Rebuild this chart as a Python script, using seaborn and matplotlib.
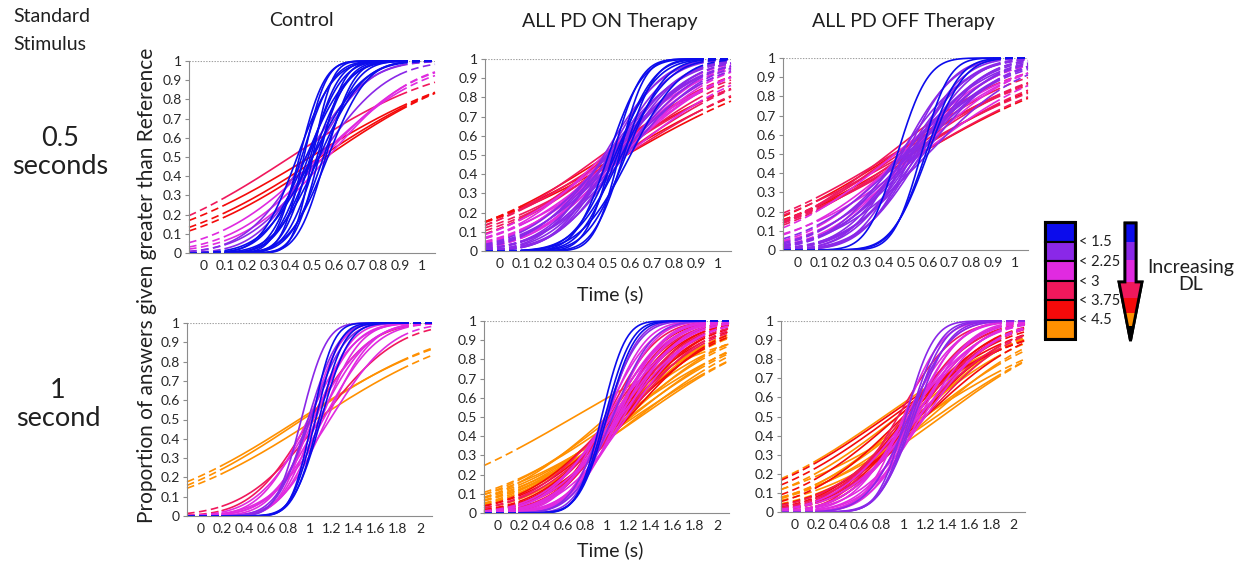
import math
import numpy as np
import pandas as pd
import matplotlib
matplotlib.use("Agg")
import matplotlib.pyplot as plt
from matplotlib.patches import Rectangle, Polygon
import seaborn as sns

# ---- fitted psychometric curves: point of subjective equality (s) and spread (s)
# DL groups: 0 <1.5, 1 <2.25, 2 <3, 3 <3.75, 4 <4.5, 5 >=4.5
pse_ctrl_05 = [0.50, 0.46, 0.53, 0.44, 0.49, 0.56, 0.45, 0.52, 0.48, 0.55, 0.43, 0.50, 0.57, 0.47, 0.53, 0.50,
               0.50, 0.47, 0.53, 0.53, 0.57, 0.55, 0.40, 0.49, 0.535, 0.56]
sd_ctrl_05 = [0.07, 0.08, 0.09, 0.09, 0.10, 0.10, 0.11, 0.11, 0.12, 0.12, 0.13, 0.13, 0.14, 0.15, 0.16, 0.18,
              0.20, 0.22, 0.25, 0.37, 0.31, 0.33, 0.54, 0.58, 0.54, 0.52]
grp_ctrl_05 = [0] * 16 + [1] * 3 + [2] * 3 + [3] * 1 + [4] * 3

pse_on_05 = [0.55, 0.52, 0.57, 0.50, 0.54, 0.58, 0.53, 0.56, 0.60,
             0.50, 0.52, 0.48, 0.55, 0.53, 0.57, 0.51, 0.54, 0.49, 0.56, 0.58, 0.52, 0.50, 0.55,
             0.52, 0.55, 0.50, 0.57, 0.53, 0.48, 0.56, 0.54, 0.51, 0.58,
             0.50, 0.54, 0.47, 0.56, 0.52, 0.58,
             0.50, 0.55, 0.58]
sd_on_05 = [0.09, 0.10, 0.11, 0.12, 0.13, 0.14, 0.15, 0.17, 0.18,
            0.19, 0.20, 0.21, 0.22, 0.23, 0.24, 0.25, 0.26, 0.27, 0.28, 0.29, 0.30, 0.31, 0.33,
            0.28, 0.30, 0.32, 0.33, 0.35, 0.36, 0.38, 0.40, 0.42, 0.44,
            0.42, 0.45, 0.48, 0.50, 0.53, 0.55,
            0.55, 0.60, 0.62]
grp_on_05 = [0] * 9 + [1] * 14 + [2] * 10 + [3] * 6 + [4] * 3

pse_off_05 = [0.46, 0.57, 0.59, 0.60,
              0.50, 0.53, 0.48, 0.55, 0.52, 0.57, 0.50, 0.54, 0.47, 0.56, 0.51, 0.58, 0.53, 0.49, 0.55, 0.52, 0.60, 0.50,
              0.52, 0.48, 0.55, 0.50, 0.45, 0.57,
              0.42, 0.45, 0.50, 0.47, 0.53, 0.44, 0.56, 0.50,
              0.45, 0.52, 0.56]
sd_off_05 = [0.11, 0.10, 0.12, 0.13,
             0.17, 0.18, 0.19, 0.20, 0.21, 0.22, 0.23, 0.24, 0.25, 0.26, 0.27, 0.28, 0.29, 0.30, 0.31, 0.33, 0.34, 0.36,
             0.30, 0.33, 0.36, 0.40, 0.43, 0.46,
             0.45, 0.48, 0.50, 0.52, 0.55, 0.58, 0.60, 0.62,
             0.55, 0.58, 0.62]
grp_off_05 = [0] * 4 + [1] * 18 + [2] * 6 + [3] * 8 + [4] * 3

pse_ctrl_1 = [1.02, 1.05, 1.08, 1.10,
              0.92, 0.98, 1.00,
              1.00, 1.05, 1.10, 1.03, 1.15, 0.98, 1.08, 1.12, 1.02, 1.18,
              1.00, 1.10,
              0.90, 0.93, 1.05]
sd_ctrl_1 = [0.15, 0.17, 0.18, 0.20,
             0.18, 0.22, 0.25,
             0.22, 0.25, 0.28, 0.30, 0.32, 0.34, 0.36, 0.38, 0.40, 0.44,
             0.42, 0.55,
             1.10, 1.05, 1.10]
grp_ctrl_1 = [0] * 4 + [1] * 3 + [2] * 10 + [3] * 2 + [5] * 3

pse_on_1 = [0.95, 0.98, 1.00,
            1.00, 0.98, 1.05,
            1.00, 1.05, 1.10, 0.98, 1.08, 1.12, 1.03, 1.15, 1.06, 1.00, 1.10, 1.18, 1.04, 1.12,
            1.00, 1.06, 1.10, 1.02, 1.14, 1.08, 1.18, 1.04, 1.12,
            1.02, 1.08, 1.12, 1.05, 1.15, 1.10, 1.20, 1.06, 1.14,
            0.70, 1.00, 1.10, 1.15, 1.05, 1.20, 1.12, 1.25, 1.08, 1.18, 1.30, 1.22, 1.15, 1.28]
sd_on_1 = [0.17, 0.19, 0.20,
           0.22, 0.25, 0.28,
           0.28, 0.30, 0.32, 0.33, 0.35, 0.36, 0.38, 0.40, 0.42, 0.44, 0.46, 0.48, 0.50, 0.52,
           0.36, 0.40, 0.44, 0.47, 0.50, 0.53, 0.56, 0.60, 0.64,
           0.40, 0.44, 0.48, 0.52, 0.55, 0.58, 0.62, 0.66, 0.70,
           1.20, 0.80, 0.75, 0.85, 0.90, 0.95, 1.00, 1.05, 0.70, 0.78, 1.00, 0.88, 0.65, 0.92]
grp_on_1 = [0] * 3 + [1] * 3 + [2] * 14 + [3] * 9 + [4] * 9 + [5] * 14

pse_off_1 = [1.02, 1.06, 1.08, 1.10, 1.05,
             1.00, 1.05, 1.10, 1.08, 1.15, 1.02, 1.12, 1.18, 1.06, 1.10, 1.20, 1.04, 1.14,
             0.95, 1.05, 1.10, 1.00, 1.15, 1.08, 1.20, 1.12,
             0.85, 0.90, 0.95, 1.00, 1.05, 1.10, 1.15, 1.02, 1.20,
             0.82, 0.95, 1.05, 1.10, 1.20, 1.15, 1.25, 1.30, 1.35, 1.18]
sd_off_1 = [0.20, 0.22, 0.23, 0.25, 0.30,
            0.28, 0.30, 0.32, 0.34, 0.36, 0.38, 0.40, 0.42, 0.45, 0.48, 0.50, 0.53, 0.56,
            0.40, 0.44, 0.48, 0.52, 0.56, 0.60, 0.64, 0.68,
            1.00, 0.95, 0.80, 0.70, 0.60, 0.55, 0.65, 0.50, 0.75,
            1.00, 0.90, 0.80, 0.85, 0.90, 0.70, 0.80, 1.00, 0.95, 1.10]
grp_off_1 = [1] * 5 + [2] * 13 + [3] * 8 + [4] * 9 + [5] * 10

group_colors = ["#0c0cec", "#8a28e8", "#e02ae0", "#f0185c", "#f40a0a", "#ff9000"]
legend_labels = ["< 1.5", "< 2.25", "< 3", "< 3.75", "< 4.5"]
titles = ["Control", "ALL PD ON Therapy", "ALL PD OFF Therapy"]
row_labels = ["0.5\nseconds", "1\nsecond"]
yticks = [0, 0.1, 0.2, 0.3, 0.4, 0.5, 0.6, 0.7, 0.8, 0.9, 1]
xticks_05 = [0, 0.1, 0.2, 0.3, 0.4, 0.5, 0.6, 0.7, 0.8, 0.9, 1]
xticks_1 = [0, 0.2, 0.4, 0.6, 0.8, 1, 1.2, 1.4, 1.6, 1.8, 2]

sns.set_style("white")
plt.rcParams["font.family"] = ["Lato", "DejaVu Sans"]
plt.rcParams["lines.scale_dashes"] = False

W, H = 1245, 564
fig = plt.figure(figsize=(W / 100, H / 100), dpi=100)


def box(x0, x1, y0, y1):
    return [x0 / W, 1 - y1 / H, (x1 - x0) / W, (y1 - y0) / H]


def cum_normal(x, m, s):
    return np.array([0.5 * (1 + math.erf((v - m) / (s * math.sqrt(2)))) for v in x])


def draw_panel(ax, pse, sd, grp, xlim, lo, hi, xticks):
    parts = []
    segs = [("a", "dash", np.linspace(xlim[0], lo, 25)),
            ("b", "solid", np.linspace(lo, hi, 150)),
            ("c", "dash", np.linspace(hi, xlim[1], 25))]
    for i, (m, s, g) in enumerate(zip(pse, sd, grp)):
        for tag, kind, xs in segs:
            parts.append(pd.DataFrame({"x": xs, "p": cum_normal(xs, m, s),
                                       "unit": f"{i}{tag}", "grp": g, "seg": kind}))
    df = pd.concat(parts, ignore_index=True)
    order = [g for g in [5, 4, 3, 2, 1, 0] if g in set(grp)]
    sns.lineplot(data=df, x="x", y="p", hue="grp", hue_order=order,
                 palette={g: group_colors[g] for g in order},
                 style="seg", style_order=["solid", "dash"],
                 dashes={"solid": "", "dash": (5.5, 3.2)},
                 units="unit", estimator=None, sort=False, legend=False,
                 lw=1.2, clip_on=False, ax=ax)
    ax.set_xlim(xlim)
    ax.set_ylim(0, 1)
    ax.axhline(1, color="#a0a0a0", lw=0.8, ls=(0, (1, 1)), zorder=0)
    ax.set_xticks(xticks)
    ax.set_xticklabels([f"{t:g}" for t in xticks])
    ax.set_yticks(yticks)
    ax.set_yticklabels([f"{t:g}" for t in yticks])
    ax.tick_params(axis="y", labelsize=10, colors="#8c8c8c", labelcolor="#262626",
                   length=3, width=0.8, pad=2, left=True)
    ax.tick_params(axis="x", labelsize=10, colors="#8c8c8c", labelcolor="#262626",
                   length=0, pad=5, bottom=True)
    for sp in ["top", "right"]:
        ax.spines[sp].set_visible(False)
    for sp in ["left", "bottom"]:
        ax.spines[sp].set_color("#8c8c8c")
        ax.spines[sp].set_linewidth(0.8)
    ax.set_xlabel("")
    ax.set_ylabel("")


top_xlim = (-0.065, 1.06)
bot_xlim = (-0.12, 2.11)
panels = [
    (box(189, 435, 61, 253), pse_ctrl_05, sd_ctrl_05, grp_ctrl_05, top_xlim, 0.1, 0.9, xticks_05),
    (box(485, 731, 59, 251), pse_on_05, sd_on_05, grp_on_05, top_xlim, 0.1, 0.9, xticks_05),
    (box(783, 1028, 58, 250), pse_off_05, sd_off_05, grp_off_05, top_xlim, 0.1, 0.9, xticks_05),
    (box(187, 432, 323, 516), pse_ctrl_1, sd_ctrl_1, grp_ctrl_1, bot_xlim, 0.2, 1.83, xticks_1),
    (box(484, 729, 321, 513), pse_on_1, sd_on_1, grp_on_1, bot_xlim, 0.2, 1.83, xticks_1),
    (box(781, 1025, 321, 512), pse_off_1, sd_off_1, grp_off_1, bot_xlim, 0.2, 1.83, xticks_1),
]
for rect, pse, sd, grp, xlim, lo, hi, xt in panels:
    ax = fig.add_axes(rect)
    draw_panel(ax, pse, sd, grp, xlim, lo, hi, xt)

# ---- overlay in pixel coordinates for text and the colour key
ov = fig.add_axes([0, 0, 1, 1], zorder=10)
ov.set_xlim(0, W)
ov.set_ylim(H, 0)
ov.axis("off")
ov.patch.set_alpha(0)

ov.text(13, 17, "Standard", fontsize=14, ha="left", va="center", color="#202020")
ov.text(13, 45, "Stimulus", fontsize=14, ha="left", va="center", color="#202020")
for xc, t in zip([301, 610, 903], titles):
    ov.text(xc, 21, t, fontsize=14, ha="center", va="center", color="#202020")
ov.text(60, 152, row_labels[0], fontsize=19.5, ha="center", va="center", linespacing=1.15, color="#202020")
ov.text(58, 405, row_labels[1], fontsize=19.5, ha="center", va="center", linespacing=1.15, color="#202020")
ov.text(147, 285, "Proportion of answers given greater than Reference", fontsize=15,
        rotation=90, ha="center", va="center", color="#202020")
ov.text(610, 294, "Time (s)", fontsize=14, ha="center", va="center", color="#202020")
ov.text(610, 550, "Time (s)", fontsize=14, ha="center", va="center", color="#202020")

bh = 19.5
for i, c in enumerate(group_colors):
    ov.add_patch(Rectangle((1045, 222 + i * bh), 30, bh, fc=c, ec="black", lw=1.5))
ov.add_patch(Rectangle((1045, 222), 30, bh * 6, fc="none", ec="black", lw=2.2))
for j, lab in enumerate(legend_labels):
    ov.text(1079, 222 + (j + 1) * bh + 1, lab, fontsize=10.5, ha="left", va="center", color="#202020")

arrow_pts = [(1125, 223), (1136, 223), (1136, 282), (1142, 282), (1130.5, 341),
             (1119, 282), (1125, 282)]
arrow = Polygon(arrow_pts, closed=True, fc="black", ec="black", lw=2)
ov.add_patch(arrow)
bands = [(223, 242), (242, 260), (260, 282), (282, 298), (298, 313), (313, 326)]
for (y0, y1), c in zip(bands, group_colors):
    r = Rectangle((1115, y0), 30, y1 - y0, fc=c, ec="none")
    ov.add_patch(r)
    r.set_clip_path(arrow)
ov.add_patch(Polygon(arrow_pts, closed=True, fc="none", ec="black", lw=2))
ov.text(1191, 276, "Increasing\nDL", fontsize=14, ha="center", va="center", linespacing=1.05, color="#202020")

fig.savefig("out.png", dpi=100)
